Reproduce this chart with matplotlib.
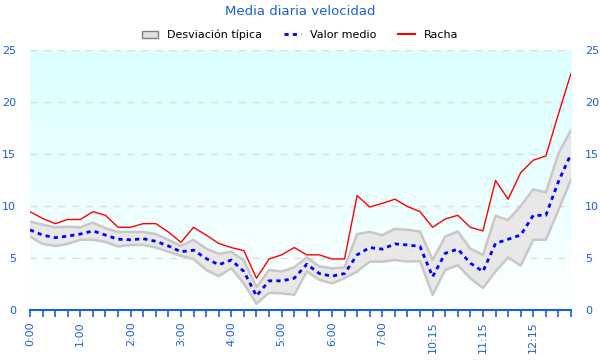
import numpy as np
import matplotlib
matplotlib.use('Agg')
import matplotlib.pyplot as plt
from matplotlib.patches import Patch
from matplotlib.lines import Line2D

horas = ['0:00', '0:15', '0:30', '0:45', '1:00', '1:15', '1:30', '1:45',
         '2:00', '2:15', '2:30', '2:45', '3:00', '3:15', '3:30', '3:45',
         '4:00', '4:15', '4:30', '4:45', '5:00', '5:15', '5:30', '5:45',
         '6:00', '6:15', '6:30', '6:45', '7:00', '7:15', '7:30', '7:45',
         '10:15', '10:30', '10:45', '11:00', '11:15', '11:30', '11:45', '12:00',
         '12:15', '12:30', '12:45', '13:00']

racha = [9.45, 8.8, 8.3, 8.7, 8.7, 9.45, 9.1, 7.95, 7.95, 8.3, 8.3, 7.5,
         6.5, 7.95, 7.2, 6.4, 6.0, 5.7, 3.05, 4.9, 5.3, 6.0, 5.3, 5.3,
         4.9, 4.9, 11.0, 9.9, 10.25, 10.65, 9.95, 9.45, 7.95, 8.75, 9.1, 7.95,
         7.6, 12.45, 10.65, 13.2, 14.4, 14.8, 18.85, 22.75]

media = [7.7, 7.2, 6.95, 7.1, 7.3, 7.6, 7.2, 6.8, 6.75, 6.85, 6.6, 6.15,
         5.6, 5.75, 4.95, 4.35, 4.8, 3.7, 1.35, 2.8, 2.8, 3.05, 4.4, 3.5,
         3.25, 3.5, 5.3, 6.0, 5.85, 6.35, 6.25, 6.1, 3.2, 5.45, 5.85, 4.5,
         3.7, 6.4, 6.8, 7.2, 9.1, 9.1, 12.35, 15.0]

desv_sup = [8.5, 8.2, 7.95, 8.0, 7.95, 8.4, 7.85, 7.5, 7.5, 7.5, 7.3, 6.75,
            6.15, 6.75, 5.9, 5.4, 5.6, 4.75, 2.2, 3.85, 3.7, 4.1, 5.05, 4.2,
            4.0, 4.1, 7.3, 7.5, 7.2, 7.8, 7.7, 7.55, 4.8, 7.05, 7.55, 5.9,
            5.3, 9.05, 8.65, 10.0, 11.6, 11.3, 15.05, 17.3]

desv_inf = [7.05, 6.35, 6.15, 6.35, 6.75, 6.75, 6.55, 6.1, 6.25, 6.25, 6.0, 5.6,
            5.2, 4.9, 3.85, 3.25, 4.0, 2.55, 0.6, 1.65, 1.6, 1.45, 3.7, 2.9,
            2.55, 3.05, 3.7, 4.65, 4.65, 4.8, 4.65, 4.7, 1.45, 3.85, 4.3, 3.05,
            2.1, 3.7, 5.05, 4.25, 6.75, 6.75, 9.6, 12.55]

azul = '#1a5fd6'
x = np.arange(len(horas))

fig = plt.figure(figsize=(6, 3.6), dpi=100)
ax = fig.add_axes([0.05, 0.139, 0.9017, 0.7222])

# fondo degradado cian -> blanco
grad = np.linspace(0, 1, 256).reshape(-1, 1)
cmap = matplotlib.colors.LinearSegmentedColormap.from_list('bg', ['#ffffff', '#e9ffff', '#dcffff'])
ax.imshow(grad, aspect='auto', cmap=cmap, origin='lower',
          extent=[0, len(horas) - 1, 0, 25], zorder=0)

for v in [5, 10, 15, 20, 25]:
    ax.axhline(v, color='#dcdcdc', lw=1, ls=(0, (5, 5)), zorder=1)

ax.fill_between(x, desv_inf, desv_sup, facecolor='#e8e8e8', edgecolor='none', zorder=2)
ax.plot(x, desv_sup, color='#c8c8c8', lw=1.8, zorder=3)
ax.plot(x, desv_inf, color='#c8c8c8', lw=1.8, zorder=3)
ax.plot(x, media, color='#0000ff', lw=2, ls=(0, (1.5, 1.5)), zorder=4)
ax.plot(x, racha, color='#ff0000', lw=1, zorder=5)

ax.set_xlim(0, len(horas) - 1)
ax.set_ylim(0, 25)
ax.set_xticks(x)
ax.set_xticklabels([h if i % 4 == 0 else '' for i, h in enumerate(horas)],
                   rotation=90, color=azul, fontsize=8)
ax.set_yticks([0, 5, 10, 15, 20, 25])
ax.tick_params(axis='x', colors=azul, length=5, width=1.2, labelcolor=azul, pad=3)
ax.tick_params(axis='y', length=0, labelcolor=azul, labelsize=8, pad=10,
               labelright=True, labelleft=True)
for s in ['top', 'left', 'right']:
    ax.spines[s].set_visible(False)
ax.spines['bottom'].set_color(azul)
ax.spines['bottom'].set_linewidth(1.5)

fig.suptitle('Media diaria velocidad', color=azul, fontsize=9.5, y=0.985)
handles = [Patch(facecolor='#e0e0e0', edgecolor='#808080', label='Desviación típica'),
           Line2D([], [], color='#0000ff', lw=2, ls=(0, (1.5, 1.5)), label='Valor medio'),
           Line2D([], [], color='#ff0000', lw=1.5, label='Racha')]
fig.legend(handles=handles, loc='upper center', bbox_to_anchor=(0.5, 0.945), ncol=3,
           frameon=False, fontsize=8, handlelength=1.5, columnspacing=2.0,
           handletextpad=0.8)

fig.savefig('out.png', dpi=100)
